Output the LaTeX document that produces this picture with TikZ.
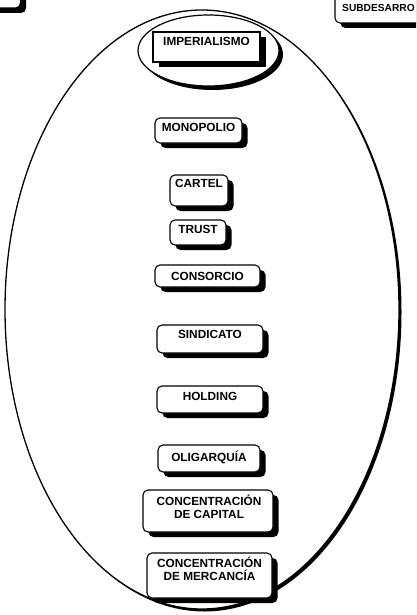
\documentclass[tikz,border=0pt]{standalone}
\usepackage{fontspec}
\setmainfont{Liberation Sans}
\usetikzlibrary{shapes.geometric,shadows}
\newcommand\lblfont{\fontsize{11.8}{13}\selectfont\bfseries}
\newcommand\smallfont{\fontsize{10.2}{12}\selectfont\bfseries}
\tikzset{
  shad/.style={drop shadow={shadow xshift=5.5pt, shadow yshift=-5pt, fill=black, opacity=1}},
  sbox/.style={draw, fill=white, line width=1.1pt, rounded corners=5pt, inner sep=0pt, shad},
  rbox/.style={draw, fill=white, line width=1.1pt, inner sep=0pt, shad},
  lbl/.style={inner sep=0pt, font=\lblfont, anchor=north, text height=8.5pt, text depth=0pt},
  lbltwo/.style={inner sep=0pt, font=\lblfont, anchor=north, align=center},
  oval/.style={ellipse, draw, fill=white, inner sep=0pt},
}
\begin{document}
\begin{tikzpicture}[x=1pt, y=-1pt]
\useasboundingbox (0,0) rectangle (416,615);
\clip (0,0) rectangle (416,615);
% outer ellipse
\node[oval, line width=1.3pt, minimum width=394pt, minimum height=599pt,
      drop shadow={shadow xshift=2.5pt, shadow yshift=-2.5pt, fill=black, opacity=1}] (big) at (202,309.5) {};
% inner ellipse
\node[oval, line width=1.2pt, minimum width=141pt, minimum height=71pt,
      drop shadow={shadow xshift=4pt, shadow yshift=-4pt, fill=black, opacity=1}] (small) at (208.5,50.5) {};
% partial boxes at the top corners
\node[sbox, minimum width=101pt, minimum height=38pt] (tl) at (-30,-11) {};
\node[sbox, minimum width=105pt, minimum height=53pt] (tr) at (387.5,-3.5) {};
\node[inner sep=0pt, font=\smallfont, text height=7.4pt, text depth=0pt, anchor=north west] (trt) at (342,4) {SUBDESARRO};
% boxes
\node[rbox, minimum width=107pt, minimum height=30pt] (imp) at (206.5,47) {};
\node[lbl] (impt) at (206.5,37) {IMPERIALISMO};
\node[sbox, minimum width=87pt, minimum height=25pt] (mono) at (198.5,130.5) {};
\node[lbl] (monot) at (198.5,123) {MONOPOLIO};
\node[sbox, minimum width=58pt, minimum height=31pt] (cart) at (199,190.5) {};
\node[lbl] (cartt) at (199,179) {CARTEL};
\node[sbox, minimum width=56pt, minimum height=25pt] (trust) at (198,232.5) {};
\node[lbl] (trustt) at (198,225) {TRUST};
\node[sbox, minimum width=105pt, minimum height=22pt] (cons) at (207.5,276) {};
\node[lbl] (const) at (207.5,272) {CONSORCIO};
\node[sbox, minimum width=106pt, minimum height=28pt] (sind) at (210,339) {};
\node[lbl] (sindt) at (210,330) {SINDICATO};
\node[sbox, minimum width=106pt, minimum height=27pt] (hold) at (210,399.5) {};
\node[lbl] (holdt) at (210,392) {HOLDING};
\node[sbox, minimum width=102pt, minimum height=27pt] (olig) at (209,458.5) {};
\node[lbl] (oligt) at (209,453) {OLIGARQUÍA};
\node[sbox, minimum width=130pt, minimum height=42pt] (ccap) at (208,511) {};
\node[lbltwo] (ccapt) at (209,494.5) {CONCENTRACIÓN\\DE CAPITAL};
\node[sbox, minimum width=125pt, minimum height=45pt] (cmer) at (209.5,575.5) {};
\node[lbltwo] (cmert) at (209.5,556.5) {CONCENTRACIÓN\\DE MERCANCÍA};
\end{tikzpicture}
\end{document}
